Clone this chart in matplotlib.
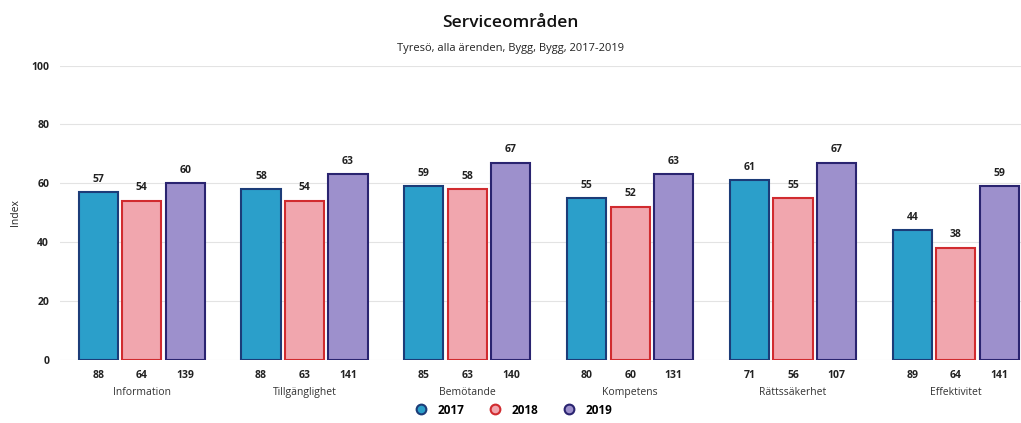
import matplotlib.pyplot as plt
import numpy as np

plt.rcParams['font.family'] = ['Open Sans', 'DejaVu Sans']

categories = ["Information", "Tillgänglighet", "Bemötande", "Kompetens", "Rättssäkerhet", "Effektivitet"]
years = ["2017", "2018", "2019"]
index_2017 = [57, 58, 59, 55, 61, 44]
index_2018 = [54, 54, 58, 52, 55, 38]
index_2019 = [60, 63, 67, 63, 67, 59]
n_2017 = [88, 88, 85, 80, 71, 89]
n_2018 = [64, 63, 63, 60, 56, 64]
n_2019 = [139, 141, 140, 131, 107, 141]

series = [index_2017, index_2018, index_2019]
counts = [n_2017, n_2018, n_2019]
fills = ["#2b9fca", "#f1a6ae", "#9d90cc"]
edges = ["#1c3c78", "#d12b2f", "#2a2470"]

fig = plt.figure(figsize=(10.21, 4.23), dpi=100)
ax = fig.add_axes([0.059, 0.15, 0.941, 0.695])

x = np.arange(len(categories))
w = 0.24
offs = [-0.267, 0.0, 0.267]

for vals, ns, fc, ec, off, yr in zip(series, counts, fills, edges, offs, years):
    bars = ax.bar(x + off, vals, w, color=fc, edgecolor=ec, linewidth=1.5, label=yr, zorder=3)
    for b, v, n in zip(bars, vals, ns):
        cx = b.get_x() + b.get_width() / 2
        ax.text(cx, v + 2.5, str(v), ha="center", va="bottom", fontsize=7.5,
                fontweight="bold", color="#222222")
        ax.text(cx, -3.5, str(n), ha="center", va="top", fontsize=7.5,
                fontweight="bold", color="#222222")

for i, c in enumerate(categories):
    ax.text(i, -9.5, c, ha="center", va="top", fontsize=7.5, color="#333333")

ax.set_ylim(0, 100)
ax.set_xlim(-0.5, 5.4)
ax.set_yticks([0, 20, 40, 60, 80, 100])
ax.set_xticks([])
ax.tick_params(axis="y", length=0, labelsize=7.5, pad=8, labelcolor="#222222")
for t in ax.get_yticklabels():
    t.set_fontweight("bold")
ax.grid(axis="y", color="#e3e3e3", linewidth=0.8, zorder=0)
for s in ax.spines.values():
    s.set_visible(False)
ax.set_ylabel("Index", fontsize=7.5, color="#222222", labelpad=7)

fig.text(0.5, 0.945, "Serviceområden", ha="center", va="center", fontsize=12.5,
         fontweight="semibold", color="#111111")
fig.text(0.5, 0.885, "Tyresö, alla ärenden, Bygg, Bygg, 2017-2019", ha="center", va="center",
         fontsize=8, color="#222222")

handles = [plt.Line2D([], [], marker="o", linestyle="", markersize=7,
                      markerfacecolor=fc, markeredgecolor=ec, markeredgewidth=1.5)
           for fc, ec in zip(fills, edges)]
fig.legend(handles=handles, labels=years, loc="lower center", bbox_to_anchor=(0.5, -0.01),
           ncol=3, frameon=False, handletextpad=0.4, columnspacing=1.6,
           prop={"weight": "bold", "size": 8.5})

fig.savefig("out.png", dpi=100)
